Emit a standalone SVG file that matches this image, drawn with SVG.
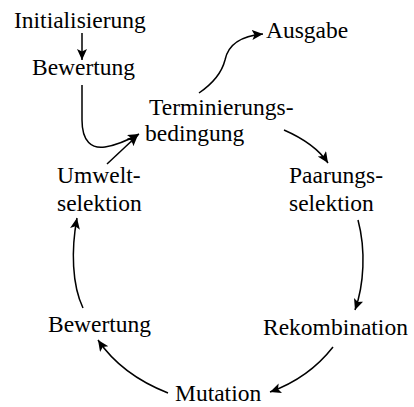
<svg xmlns="http://www.w3.org/2000/svg" width="414" height="407" viewBox="0 0 414 407">
<style>
text{font-family:"Liberation Serif","Times New Roman",serif;font-size:23.5px;fill:#000}
.c{fill:none;stroke:#000;stroke-width:1.5}
</style>
<defs>
<marker id="a" markerUnits="userSpaceOnUse" markerWidth="14" markerHeight="12" refX="11" refY="5" orient="auto">
<path d="M0,0 L11,5 L0,10 L2.5,5 z" fill="#000"/>
</marker>
</defs>
<rect width="414" height="407" fill="#fff"/>
<g id="connectors">
<path class="c" d="M82,33 L82,60" marker-end="url(#a)"/>
<path class="c" d="M82,85 L82,120 C82,142 92,149 105,147 C118,145 130,139 139,134" marker-end="url(#a)"/>
<path class="c" d="M107,164 L138,135" marker-end="url(#a)"/>
<path class="c" d="M199,93 C215,82 222,72 225,60 C228,45 240,36 263,34" marker-end="url(#a)"/>
<path class="c" d="M284,130 C300,137 318,148 328,163" marker-end="url(#a)"/>
<path class="c" d="M358,220 C366,250 364,285 355,310" marker-end="url(#a)"/>
<path class="c" d="M333,347 C315,370 295,383 270,392" marker-end="url(#a)"/>
<path class="c" d="M168,393 C140,382 115,365 98,340" marker-end="url(#a)"/>
<path class="c" d="M83,308 C72,285 71,250 77,218" marker-end="url(#a)"/>
</g>
<g id="init"><text x="14" y="28">Initialisierung</text></g>
<g id="bewertung1"><text x="32" y="75">Bewertung</text></g>
<g id="ausgabe"><text x="266" y="38">Ausgabe</text></g>
<g id="terminierung"><text x="149" y="115">Terminierungs-</text><text x="145" y="141">bedingung</text></g>
<g id="umwelt"><text x="57" y="183">Umwelt-</text><text x="57" y="211">selektion</text></g>
<g id="paarung"><text x="289" y="183">Paarungs-</text><text x="289" y="211">selektion</text></g>
<g id="bewertung2"><text x="48" y="332">Bewertung</text></g>
<g id="rekombination"><text x="263" y="335">Rekombination</text></g>
<g id="mutation"><text x="175" y="401">Mutation</text></g>
</svg>
